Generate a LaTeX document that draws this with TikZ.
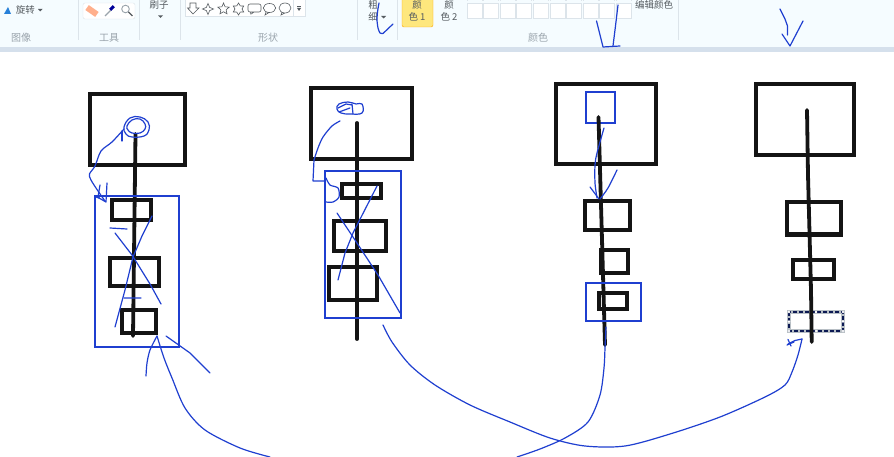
\documentclass[tikz,border=0pt]{standalone}
\usepackage{fontspec}
\setmainfont{Noto Sans CJK SC}
\usetikzlibrary{shapes.geometric}
\definecolor{ribbon}{HTML}{F5FCFF}
\definecolor{band}{HTML}{D5E0EC}
\definecolor{sep}{HTML}{DCE4EA}
\definecolor{ink}{HTML}{141414}
\definecolor{pen}{HTML}{1F3FD0}
\definecolor{tool}{HTML}{9AA4AC}
\definecolor{tooltext}{HTML}{555B60}
\tikzset{
  heavy/.style={draw=ink,line width=4pt,line join=miter},
  stem/.style={draw=ink,line width=3.8pt,line cap=round},
  pencil/.style={draw=pen,line width=1.2pt,line cap=round,line join=round},
  frame/.style={draw=pen,line width=1.3pt},
  ink sketch/.style={pencil,smooth,tension=.5},
  grouplabel/.style={font=\fontsize{10}{10}\selectfont,text=tool,inner sep=0pt},
  toollabel/.style={font=\fontsize{9.5}{10}\selectfont,text=tooltext,inner sep=0pt},
  swatch/.style={draw=sep,fill=white,line width=.9pt},
  sepline/.style={draw=sep,line width=1pt}
}
\begin{document}
\begin{tikzpicture}[x=1pt,y=-1pt]
\useasboundingbox (0,0) rectangle (894,457);
\fill[white] (0,0) rectangle (894,457);
% ribbon
\fill[ribbon] (0,0) rectangle (894,47);
\fill[band] (0,47) rectangle (894,52);
\foreach \x in {78,139,180,357,397,678} \draw[sepline] (\x,0) -- (\x,40);
\node[toollabel] (rotate) at (25.5,10) {旋转};
\fill[tooltext] (38,9) -- (42.5,9) -- (40.2,11.5) -- cycle;
\fill[blue!50!cyan!70!gray] (4,14) -- (8,7) -- (11,14) -- cycle;
\node[grouplabel] (gimage) at (21,38) {图像};
\node[grouplabel] (gtools) at (109,38) {工具};
\node[toollabel] (brush) at (159,4.9) {刷子};
\fill[tooltext] (158,15.5) -- (163,15.5) -- (160.5,18) -- cycle;
\node[grouplabel] (gshapes) at (268,38) {形状};
\node[toollabel] (thick1) at (373,4.5) {粗};
\node[toollabel] (thick2) at (373,17) {细};
\fill[tooltext] (381,16) -- (386,16) -- (383.5,18.5) -- cycle;
\node[grouplabel] (gcolors) at (538,38) {颜色};
\node[toollabel] (edit) at (654,5) {编辑颜色};
% tool buttons
\draw[draw=sep,fill=white,rounded corners=2pt] (83,3) rectangle (135,19);
\fill[orange!60!red!45,rotate around={-35:(92,11)}] (86,8) rectangle (98,14);
\draw[draw=tool,line width=1.2pt] (105,16) -- (111,10);
\fill[blue!60!black,rotate around={45:(112,8)}] (109.5,6.5) rectangle (114.5,9.5);
\draw[draw=tool,line width=.9pt] (125.5,9) circle (3.8);
\draw[draw=tooltext,line width=1.3pt] (128.5,12) -- (132.5,16);
% shapes gallery
\draw[draw=sep,fill=white] (185,-2) rectangle (305,16);
\draw[draw=tooltext,fill=white,line width=.6pt] (190,3) -- (196,3) -- (196,8) -- (199,8) -- (193,14) -- (187.5,8) -- (190,8) -- cycle;
\node[draw=tooltext,star,star points=4,star point ratio=2.4,minimum size=11pt,inner sep=0pt,line width=.6pt] (star4) at (208,9) {};
\node[draw=tooltext,star,star points=5,star point ratio=2.2,minimum size=12pt,inner sep=0pt,line width=.6pt] (star5) at (223.5,9) {};
\node[draw=tooltext,star,star points=6,star point ratio=1.7,minimum size=12pt,inner sep=0pt,line width=.6pt] (star6) at (238.5,9) {};
\draw[draw=tooltext,line width=.6pt,rounded corners=2pt] (248,4) rectangle (261,12) (251,12) -- (250,15) -- (254,12);
\draw[draw=tooltext,line width=.6pt] (269.5,8) ellipse (6.2 and 4.5) (266,12) -- (265,15) -- (269,12.5);
\draw[draw=tooltext,line width=.6pt] (285,8) ellipse (6 and 5) (282,12.5) -- (281,15) -- (285,13);
\draw[sepline] (293,-2) -- (293,16);
\fill[tooltext] (297,8) -- (301,8) -- (299,11) -- cycle;
\draw[draw=tooltext,line width=.5pt] (297,6) -- (301,6);
% colour buttons
\draw[draw=orange!70!yellow,fill=yellow!70!orange!50,rounded corners=2pt] (402,-3) rectangle (433,27);
\node[toollabel] (c1a) at (417,4.5) {颜};
\node[toollabel] (c1b) at (417,17) {色 1};
\node[toollabel] (c2a) at (449,4.5) {颜};
\node[toollabel] (c2b) at (449,17) {色 2};
\foreach \i in {0,...,9} {
  \draw[swatch] (467+16.6*\i,3) rectangle (482+16.6*\i,18);
  \draw[draw=sep,line width=.8pt] (467+16.6*\i,-1) -- (467+16.6*\i,1.5) (482+16.6*\i,-1) -- (482+16.6*\i,1.5);
}
% ink ticks in ribbon
\draw[pencil] plot[smooth,tension=.4] coordinates {(379,3) (377.5,12) (377,20) (378,28) (380,33) (383,33.5)} -- (393,24);
\draw[pencil] (596.5,21) -- (599,31) -- (603,47) -- (620,46);
\draw[pencil] (613,46) -- (615,30) -- (618,5);
\draw[pencil] (780,9) -- (785,19) -- (787.5,26) -- (787.5,35);
\draw[pencil] (782,34) -- (790,46) -- (803,21);
% first assembly
\draw[heavy] (89.5,94.5) rectangle (184.5,165.5);
\draw[heavy] (111.5,200.5) rectangle (150.5,220.5);
\draw[heavy] (109.5,257.5) rectangle (158.5,285.5);
\draw[heavy] (121.5,309.5) rectangle (155.5,332.5);
\draw[stem] (135.5,134) -- (133,336);
\draw[frame] (95,196) rectangle (179,347);
\draw[pencil] plot[smooth cycle,tension=.7] coordinates {(124,127) (130,118) (140,117) (148,122) (149,130) (144,136) (132,137) (126,134)};
\draw[pencil] plot[smooth cycle,tension=.7] coordinates {(127,126) (132,120) (140,119) (145,124) (145,129) (140,133) (132,133) (128,130)};
\draw[pencil] (122,141) -- (122,131);
\draw[ink sketch] plot coordinates {(124,129) (112,142) (101,151) (95,166) (89.5,174) (91,180) (98,191) (105,201)};
\draw[pencil] (100,185) -- (98,197) (107,183) -- (106,202) (96,197) -- (99,198) -- (106,202);
\fill[pen] (98.5,197) circle (1.7);
\draw[pencil] (110,228) -- (127,229) (124,298) -- (141,298);
\draw[pencil] (115,233) -- (132,255) -- (150,284) -- (161,304);
\draw[pencil] (152,216) -- (142,236) -- (133,257) -- (125,290) -- (115,327);
\draw[ink sketch] plot coordinates {(157,336) (150,350) (147,363) (146,376)};
\draw[ink sketch] plot coordinates {(157,336) (164,358) (172,378) (185,408) (205,430) (240,448) (270,457)};
\draw[pencil] (166,336) -- (190,353) -- (210,373);
% second assembly
\draw[heavy] (310.5,88.5) rectangle (411.5,159.5);
\draw[heavy] (341.5,184.5) rectangle (380.5,198.5);
\draw[heavy] (333.5,221.5) rectangle (385.5,250.5);
\draw[heavy] (328.5,266.5) rectangle (376.5,299.5);
\draw[stem] (357,123) -- (357,339);
\draw[frame] (325,171) rectangle (401,318);
\draw[pencil] plot[smooth cycle,tension=.7] coordinates {(337,109) (339,104) (348,102) (356,104) (362,104) (362,113) (350,114) (341,113)};
\draw[pencil] (338,108) -- (346,104) -- (352,105) (339,112) -- (350,108) (352,104) -- (353,114);
\draw[ink sketch] plot coordinates {(340,121) (332,126) (323,137) (318,148) (314,160)};
\draw[pencil] (314,160) -- (313,181) -- (325,181);
\draw[ink sketch] plot coordinates {(326,178) (330,185) (338,188) (339,197) (333,202) (326,202)};
\draw[pencil] (337,213) -- (353,237) -- (378,275) -- (400,313);
\draw[pencil] (377,186) -- (353,233) -- (345,253) -- (338,280);
\draw[ink sketch] plot coordinates {(383,325) (392,342) (410,365) (435,385) (470,405) (510,422) (550,438) (585,446) (625,446) (670,434) (720,417) (765,397) (785,385) (792,372) (798,355) (802,339)};
% third assembly
\draw[heavy] (555.5,84.5) rectangle (655.5,164.5);
\draw[heavy] (584.5,201.5) rectangle (629.5,230.5);
\draw[heavy] (600.5,249.5) rectangle (627.5,272.5);
\draw[heavy] (598.5,292.5) rectangle (626.5,308.5);
\draw[frame] (586,92) rectangle (615,123);
\draw[stem] (598.5,117) -- (605,345);
\draw[frame] (586,283) rectangle (641,321);
\draw[ink sketch] plot coordinates {(604,128) (597,153) (595,165) (595,183) (597,198)};
\draw[pencil] (590,187) -- (599,199);
\draw[ink sketch] plot coordinates {(617,170) (608,188) (600,199)};
\draw[ink sketch] plot coordinates {(606,327) (605,348) (604,368) (600,395) (588,422) (565,438) (540,449) (517,457)};
% fourth assembly
\draw[heavy] (755.5,84.5) rectangle (853.5,155.5);
\draw[heavy] (786.5,202.5) rectangle (840.5,234.5);
\draw[heavy] (792.5,259.5) rectangle (833.5,278.5);
\draw[draw=tool!70,line width=3.4pt] (789,312) rectangle (843,331);
\draw[draw=pen!40!black,line width=1.6pt,dash pattern=on 4pt off 2pt] (789,312) rectangle (843,331);
\foreach \p in {(789,312),(816,312),(843,312),(789,321.5),(843,321.5),(789,331),(816,331),(843,331)} \fill[white] \p circle (1.4);
\draw[stem] (807,110) -- (808,175) -- (811,290) -- (811.7,342);
\draw[pencil] (802,339) -- (795,340.5) -- (788,344);
\draw[pencil] (788,339.5) -- (791,346) (787,345) -- (794,342);
\end{tikzpicture}
\end{document}
